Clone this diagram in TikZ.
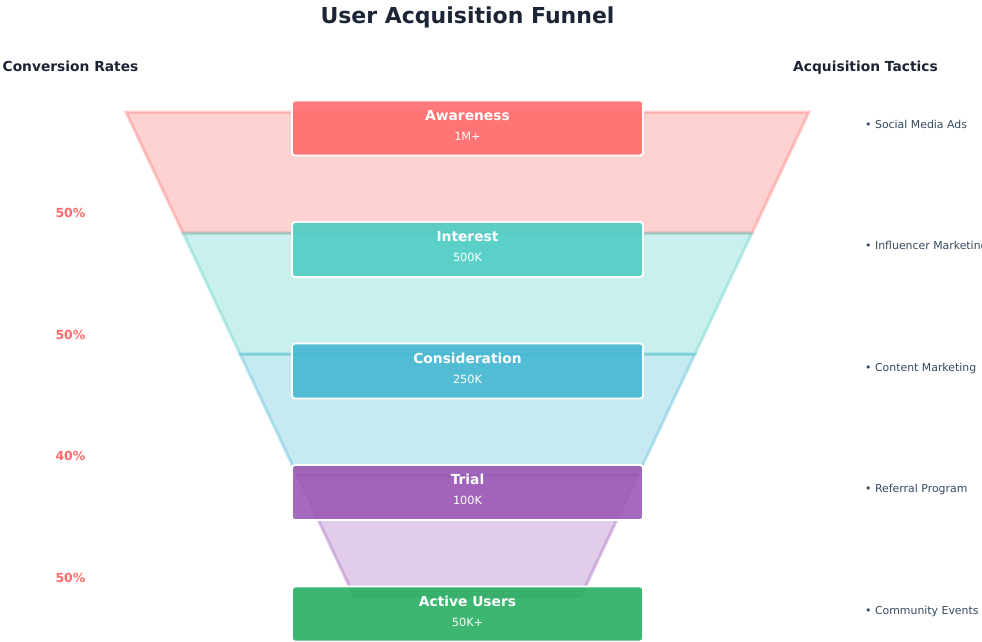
\documentclass[tikz,border=0pt]{standalone}
\usepackage{fontspec}
\setmainfont{DejaVu Sans}
\definecolor{cRed}{HTML}{FF6B6B}
\definecolor{cTeal}{HTML}{4ECDC4}
\definecolor{cBlue}{HTML}{45B7D1}
\definecolor{cPurple}{HTML}{9B59B6}
\definecolor{cGreen}{HTML}{27AE60}
\definecolor{cTitle}{HTML}{1B2536}
\definecolor{cText}{HTML}{34495E}
\tikzset{
  stage/.style={fill=#1, fill opacity=0.3, draw=#1, draw opacity=0.35, line width=3pt, line join=miter},
  stagebox/.style={fill=#1, fill opacity=0.9, draw=white, line width=1.8pt, rounded corners=3pt, minimum width=351pt, minimum height=55pt, inner sep=0pt},
  boxtitle/.style={text=white, font=\bfseries\fontsize{13.8}{16}\selectfont, inner sep=0pt, anchor=base},
  boxval/.style={text=white, font=\fontsize{11.3}{13}\selectfont, inner sep=0pt, anchor=base},
  rate/.style={text=cRed, font=\bfseries\fontsize{12.5}{14}\selectfont, inner sep=0pt, anchor=base},
  tactic/.style={text=cText, font=\fontsize{10.9}{13}\selectfont, inner sep=0pt, anchor=base west},
  header/.style={text=cTitle, font=\bfseries\fontsize{13.8}{16}\selectfont, inner sep=0pt, anchor=base},
}
\begin{document}
\begin{tikzpicture}[x=1pt,y=-1pt]
\useasboundingbox (0,0) rectangle (982,641);
% title and headers
\node[text=cTitle, font=\bfseries\fontsize{22}{26}\selectfont, inner sep=0pt, anchor=base] (title) at (467.5,23) {User Acquisition Funnel};
\node[header] (convhead) at (70.5,71) {Conversion Rates};
\node[header] (tachead) at (865.5,71) {Acquisition Tactics};
% funnel stages
\path[stage=cRed] (126,112) -- (809,112) -- (752,233) -- (183,233) -- cycle;
\path[stage=cTeal] (183,233) -- (752,233) -- (695,354) -- (240,354) -- cycle;
\path[stage=cBlue] (240,354) -- (695,354) -- (638,475) -- (297,475) -- cycle;
\path[stage=cPurple] (297,475) -- (638,475) -- (581,596) -- (354,596) -- cycle;
% stage boxes
\node[stagebox=cRed] (aw) at (467.5,128) {};
\node[stagebox=cTeal] (in) at (467.5,249.5) {};
\node[stagebox=cBlue] (co) at (467.5,371) {};
\node[stagebox=cPurple] (tr) at (467.5,492.5) {};
\node[stagebox=cGreen] (au) at (467.5,614) {};
\node[boxtitle] (awt) at (467.5,120) {Awareness};
\node[boxval] (awv) at (467.5,140) {1M+};
\node[boxtitle] (int) at (467.5,241.5) {Interest};
\node[boxval] (inv) at (467.5,261.5) {500K};
\node[boxtitle] (cot) at (467.5,363) {Consideration};
\node[boxval] (cov) at (467.5,383) {250K};
\node[boxtitle] (trt) at (467.5,484.5) {Trial};
\node[boxval] (trv) at (467.5,504.5) {100K};
\node[boxtitle] (aut) at (467.5,606) {Active Users};
\node[boxval] (auv) at (467.5,626) {50K+};
% conversion rates
\node[rate] (r1) at (70.5,217.5) {50\%};
\node[rate] (r2) at (70.5,339) {50\%};
\node[rate] (r3) at (70.5,460.5) {40\%};
\node[rate] (r4) at (70.5,582) {50\%};
% tactics
\node[tactic] (t1) at (865,128) {• Social Media Ads};
\node[tactic] (t2) at (865,249.5) {• Influencer Marketing};
\node[tactic] (t3) at (865,371) {• Content Marketing};
\node[tactic] (t4) at (865,492.5) {• Referral Program};
\node[tactic] (t5) at (865,614) {• Community Events};
\end{tikzpicture}
\end{document}
